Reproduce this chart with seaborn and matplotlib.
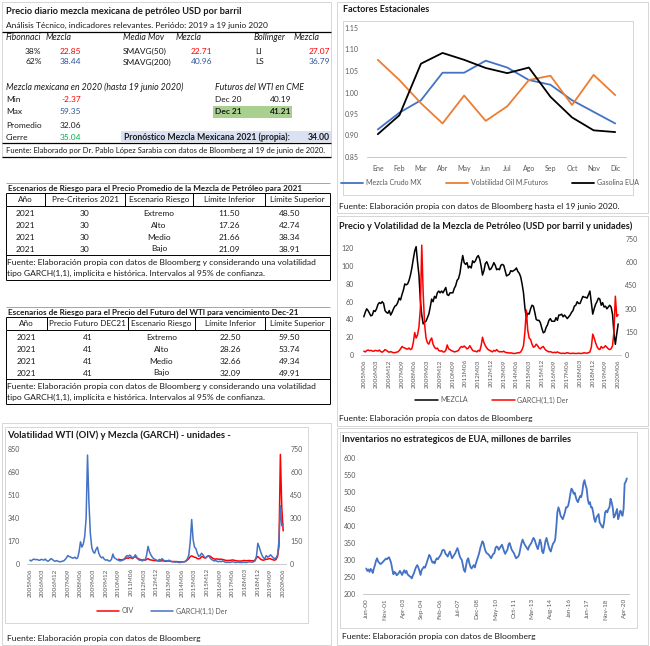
import numpy as np
import pandas as pd
import matplotlib
matplotlib.use("Agg")
import matplotlib.pyplot as plt
import seaborn as sns
from matplotlib.patches import Rectangle

sns.set_theme(style="white")
plt.rcParams['font.family'] = ['Lato', 'DejaVu Sans']

# ---------------- DATA ----------------
fib_labels = ["38%", "62%"]
fib_values = [22.85, 38.44]
sma_labels = ["SMAVG(50)", "SMAVG(200)"]
sma_values = [22.71, 40.96]
boll_labels = ["LI", "LS"]
boll_values = [27.07, 36.79]
stats_labels = ["Min", "Max", "Promedio", "Cierre"]
stats_values = [-2.37, 59.35, 32.06, 35.04]
fut_labels = ["Dec 20", "Dec 21"]
fut_values = [40.19, 41.21]
forecast_2021 = 34.00

esc_years = [2021, 2021, 2021, 2021]
esc_names = ["Extremo", "Alto", "Medio", "Bajo"]
t1_precrit = [30, 30, 30, 30]
t1_inf = [11.50, 17.26, 21.66, 21.09]
t1_sup = [48.50, 42.74, 38.34, 38.91]
t2_fut = [41, 41, 41, 41]
t2_inf = [22.50, 28.26, 32.66, 32.09]
t2_sup = [59.50, 53.74, 49.34, 49.91]

meses = ["Ene", "Feb", "Mar", "Abr", "May", "Jun", "Jul", "Ago", "Sep", "Oct", "Nov", "Dic"]
fe_mezcla = [0.914, 0.953, 0.982, 1.046, 1.046, 1.074, 1.058, 1.029, 1.018, 0.982, 0.955, 0.928]
fe_volat = [1.076, 1.029, 0.975, 0.928, 0.993, 0.934, 0.968, 1.029, 1.039, 0.971, 1.041, 0.994]
fe_gasol = [0.903, 0.947, 1.067, 1.092, 1.076, 1.057, 1.045, 1.058, 0.990, 0.942, 0.912, 0.908]

# monthly 2005M06 .. 2020M06
mezcla = [43, 48, 52, 50, 47, 44, 45,
          50, 49, 52, 57, 59, 58, 60, 58, 50, 48, 47, 50,
          45, 48, 52, 55, 56, 59, 64, 62, 68, 73, 80, 79,
          80, 84, 90, 98, 108, 117, 122, 105, 90, 62, 45, 35,
          37, 38, 42, 46, 54, 63, 60, 66, 64, 70, 72, 70,
          72, 70, 73, 76, 68, 67, 70, 70, 70, 75, 78, 84,
          86, 92, 103, 112, 104, 102, 104, 98, 100, 98, 106, 104,
          106, 110, 112, 108, 100, 90, 95, 103, 105, 101, 96, 97,
          100, 104, 101, 96, 97, 96, 101, 102, 101, 95, 89, 90,
          91, 95, 94, 95, 96, 98, 94, 92, 88, 80, 70, 53,
          42, 47, 46, 52, 56, 55, 48, 40, 39, 39, 36, 30,
          25, 26, 31, 34, 39, 41, 38, 38, 38, 42, 39, 45,
          45, 46, 43, 45, 43, 41, 43, 45, 48, 50, 55, 56,
          60, 58, 58, 62, 66, 65, 65, 64, 68, 72, 59, 46,
          52, 57, 60, 64, 63, 56, 59, 54, 55, 52, 54, 56,
          54, 46, 25, 12, 24, 35]
garch = [25, 20, 28, 32, 28, 30, 26,
         24, 30, 28, 25, 32, 22, 18, 25, 35, 30, 22, 18,
         22, 18, 15, 15, 18, 20, 28, 40, 55, 48, 45, 40,
         38, 45, 35, 40, 80, 145, 110, 130, 180, 300, 710, 400,
         200, 110, 80, 70, 95, 110, 70, 50, 40, 45, 30, 25,
         28, 20, 20, 30, 65, 40, 35, 28, 25, 20, 22, 25,
         30, 45, 55, 50, 58, 50, 40, 45, 60, 45, 30, 25,
         25, 20, 30, 25, 60, 115, 80, 60, 45, 35, 30, 25,
         20, 30, 25, 35, 25, 20, 22, 20, 25, 18, 15, 15,
         12, 14, 12, 10, 10, 12, 15, 14, 20, 35, 60, 150,
         290, 160, 110, 100, 70, 50, 55, 70, 60, 45, 40, 50,
         55, 40, 30, 25, 20, 22, 18, 15, 18, 15, 20, 15,
         12, 10, 12, 10, 12, 15, 12, 10, 10, 12, 10, 10,
         10, 12, 10, 10, 12, 15, 12, 12, 15, 20, 50, 135,
         110, 80, 55, 40, 35, 55, 45, 50, 60, 50, 40, 35,
         40, 60, 150, 380, 250, 260]
oiv_start = "2010-09"
oiv = [35, 32, 30, 33,
       35, 40, 45, 42, 48, 45, 40, 50, 55, 45, 40, 35,
       32, 30, 30, 28, 35, 40, 32, 30, 28, 26, 25, 25,
       24, 22, 22, 25, 23, 20, 20, 22, 22, 20, 18, 18,
       18, 18, 17, 16, 15, 15, 16, 18, 22, 30, 40, 55,
       60, 55, 50, 48, 40, 38, 42, 55, 52, 45, 45, 55,
       60, 58, 50, 42, 38, 35, 38, 35, 36, 35, 33, 30,
       28, 25, 27, 26, 28, 30, 28, 25, 24, 22, 22, 22,
       23, 26, 25, 24, 25, 26, 24, 24, 23, 30, 45, 55,
       45, 35, 30, 28, 32, 35, 36, 40, 38, 34, 30, 28,
       35, 55, 130, 810, 420, 245]
month_ticks = ["2005M06", "2006M03", "2006M12", "2007M09", "2008M06", "2009M03", "2009M12",
               "2010M09", "2011M06", "2012M03", "2012M12", "2013M09", "2014M06", "2015M03",
               "2015M12", "2016M09", "2017M06", "2018M03", "2018M12", "2019M09", "2020M06"]

# monthly Jun-00 .. Jun-20, millones de barriles
inventarios = [275, 268, 272, 265, 274, 270, 262, 275, 285, 298, 305, 295,
               292, 288, 290, 293, 297, 300, 304, 302, 306, 308, 300, 290,
               272, 258, 265, 262, 255, 258, 262, 268, 262, 256, 264, 270,
               262, 268, 258, 255, 252, 250, 246, 255, 262, 272, 280, 285,
               278, 268, 256, 270, 275, 280, 277, 285, 295, 305, 315, 310,
               300, 292, 295, 290, 300, 305, 302, 308, 312, 318, 328, 330,
               328, 318, 315, 310, 318, 325, 315, 305, 310, 315, 320, 328,
               335, 325, 312, 305, 300, 285, 270, 265, 285, 300, 305, 290,
               280, 275, 280, 285, 278, 290, 300, 310, 320, 335, 345, 355,
               350, 335, 325, 320, 318, 315, 310, 305, 312, 318, 320, 335,
               340, 338, 330, 335, 340, 345, 335, 325, 318, 325, 330, 345,
               350, 340, 330, 325, 320, 312, 305, 308, 310, 318, 335, 350,
               360, 352, 345, 340, 335, 330, 340, 345, 350, 358, 365, 360,
               350, 340, 332, 345, 360, 350, 325, 320, 335, 355, 365, 352,
               340, 330, 325, 338, 348, 352, 360, 395, 440, 455, 445, 430,
               425, 420, 430, 440, 455, 455, 460, 475, 495, 510, 505, 495,
               498, 485, 475, 470, 480, 488, 485, 500, 525, 535, 520, 510,
               480, 465, 470, 455, 455, 440, 420, 412, 425, 430, 435, 410,
               405, 398, 395, 410, 440, 445, 440, 450, 455, 480, 470, 455,
               425, 430, 440, 450, 420, 430, 445, 440, 430, 450, 525, 530,
               540]
inv_ticks = ["Jun-00", "Nov-01", "Apr-03", "Sep-04", "Feb-06", "Jul-07", "Dec-08", "May-10",
             "Oct-11", "Mar-13", "Aug-14", "Jan-16", "Jun-17", "Nov-18", "Apr-20"]

# ---------------- FIGURE ----------------
W, H = 650, 646
fig = plt.figure(figsize=(6.5, 6.46), dpi=100)
fig.patch.set_facecolor("white")
bg = fig.add_axes([0, 0, 1, 1])
bg.set_xlim(0, W); bg.set_ylim(H, 0); bg.axis("off")

RED = "#FF0000"; BLUE = "#2F5597"; GREEN = "#00B050"
TXT = "#1a1a1a"; GRAY = "#595959"; BORDER = "#D0D0D0"
LBLUE = "#4472C4"; ORANGE = "#ED7D31"


def rect(x0, y0, x1, y1):
    return [x0 / W, 1 - y1 / H, (x1 - x0) / W, (y1 - y0) / H]


def T(x, y, s, size=6.0, ha="left", color=TXT, weight="normal", style="normal"):
    bg.text(x, y, s, fontsize=size, ha=ha, va="center", color=color,
            fontweight=weight, fontstyle=style)


def box(x0, y0, x1, y1, ec=BORDER, lw=0.6, fc=None):
    bg.add_patch(Rectangle((x0, y0), x1 - x0, y1 - y0, fill=fc is not None,
                           facecolor=fc if fc else "none", edgecolor=ec, lw=lw))


def hl(y, x0, x1, color="#000000", lw=0.7):
    bg.plot([x0, x1], [y, y], color=color, lw=lw, solid_capstyle="butt")


def vl(x, y0, y1, color="#000000", lw=0.7):
    bg.plot([x, x], [y0, y1], color=color, lw=lw, solid_capstyle="butt")


# ---------------- TOP-LEFT PANEL ----------------
box(2, 2, 331, 157)
T(6, 12, "Precio diario mezcla mexicana de petróleo USD por barril", size=6.7, weight="bold")
T(6, 25, "Análisis Técnico, indicadores relevantes. Periódo: 2019 a 19 junio 2020", size=6.0)
hl(32, 2, 331, lw=0.9)
IT = 6.3
T(6, 38, "Fibonnaci", style="italic", size=IT); T(46, 38, "Mezcla", style="italic", size=IT)
T(123, 38, "Media Mov", style="italic", size=IT); T(176, 38, "Mezcla", style="italic", size=IT)
T(254, 38, "Bollinger", style="italic", size=IT); T(294, 38, "Mezcla", style="italic", size=IT)
row_y = [51, 62]
row_col = [RED, BLUE]
for i in range(2):
    T(25, row_y[i], fib_labels[i])
    T(81, row_y[i], f"{fib_values[i]:.2f}", ha="right", color=row_col[i])
    T(123, row_y[i], sma_labels[i])
    T(212, row_y[i], f"{sma_values[i]:.2f}", ha="right", color=row_col[i])
    T(255, row_y[i], boll_labels[i])
    T(330, row_y[i], f"{boll_values[i]:.2f}", ha="right", color=row_col[i])
T(6, 87, "Mezcla mexicana en 2020 (hasta 19 junio 2020)", style="italic", size=IT)
T(215, 87, "Futuros del WTI en CME", style="italic", size=IT)
st_y = [99, 112, 125, 137]
st_col = [RED, BLUE, TXT, GREEN]
for i in range(4):
    T(6, st_y[i], stats_labels[i])
    T(81, st_y[i], f"{stats_values[i]:.2f}", ha="right", color=st_col[i])
box(213, 106, 292, 118, ec="none", fc="#A9D08E")
T(215, 99, fut_labels[0]); T(291, 99, f"{fut_values[0]:.2f}", ha="right")
T(215, 112, fut_labels[1], weight="bold"); T(291, 112, f"{fut_values[1]:.2f}", ha="right", weight="bold")
box(121, 131, 331, 142, ec="none", fc="#D9E1F2")
T(124, 137, "Pronóstico Mezcla Mexicana 2021 (propia):", weight="bold", size=6.2)
T(330, 137, f"{forecast_2021:.2f}", ha="right", weight="bold", size=6.2)
hl(143, 2, 331, lw=0.9)
T(6, 150, "Fuente: Elaborado por Dr. Pablo López Sarabia con datos de Bloomberg al 19 de junio de 2020.", size=5.5)
hl(157, 2, 331, lw=0.9)


# ---------------- TABLES ----------------
def scen_table(y_top, title, headers, seps, col2):
    x0, x1 = 6, 330
    hl(y_top, x0, x1, lw=0.5, color="#808080")
    T(8, y_top + 5, title, size=5.9, weight="bold")
    hy0 = y_top + 10; hy1 = hy0 + 13
    hl(hy0, x0, x1); hl(hy1, x0, x1)
    xs = [x0] + seps + [x1]
    for x in xs:
        vl(x, hy0, hy1)
    centers = [(xs[k] + xs[k + 1]) / 2 for k in range(5)]
    for k, h in enumerate(headers):
        T(centers[k], (hy0 + hy1) / 2, h, ha="center", size=5.9)
    ry = [hy1 + 7 + 12 * r for r in range(4)]
    for r in range(4):
        T(centers[0], ry[r], str(esc_years[r]), ha="center")
        T(centers[1], ry[r], str(col2[0][r]), ha="center")
        T(centers[2], ry[r], esc_names[r], ha="center")
        T(centers[3], ry[r], f"{col2[1][r]:.2f}", ha="center")
        T(centers[4] - 8, ry[r], f"{col2[2][r]:.2f}", ha="center")
    ly = hy1 + 49
    hl(ly, x0, x1)
    T(7, ly + 7, "Fuente: Elaboración propia con datos de Bloomberg y considerando una volatilidad", size=6.1)
    T(7, ly + 18, "tipo GARCH(1,1), implícita e histórica. Intervalos al 95% de confianza.", size=6.1)
    hl(ly + 25, x0, x1)
    vl(x0, hy1, ly + 25); vl(x1, hy1, ly + 25)


scen_table(183, "Escenarios de Riesgo para el Precio Promedio de la Mezcla de Petróleo para 2021",
           ["Año", "Pre-Criterios 2021", "Escenario Riesgo", "Límite Inferior", "Límite Superior"],
           [45, 125, 193, 265], (t1_precrit, t1_inf, t1_sup))
scen_table(307, "Escenarios de Riesgo para el Precio del Futuro del WTI para vencimiento Dec-21",
           ["Año", "Precio Futuro DEC21", "Escenario Riesgo", "Límite Inferior", "Límite Superior"],
           [47, 128, 195, 265], (t2_fut, t2_inf, t2_sup))


def style_axis(ax):
    for s in ["top", "right", "left"]:
        ax.spines[s].set_visible(False)
    ax.spines["bottom"].set_color("#BFBFBF")
    ax.spines["bottom"].set_linewidth(0.6)
    ax.tick_params(axis="both", labelsize=5, colors=GRAY, length=0, pad=3)
    ax.set_facecolor("none")
    ax.grid(False)
    ax.set_xlabel(""); ax.set_ylabel("")


ROT = dict(labelsize=4.6, pad=3)

# ---------------- FACTORES ESTACIONALES ----------------
box(337, 2, 648, 213)
box(343, 21, 633, 195)
T(343, 10, "Factores Estacionales", size=6.5, weight="bold")
ax1 = fig.add_axes(rect(367, 28, 626, 157))
xi = np.arange(len(meses))
sns.lineplot(x=xi, y=fe_mezcla, ax=ax1, color=LBLUE, lw=1.3, label="Mezcla Crudo MX")
sns.lineplot(x=xi, y=fe_volat, ax=ax1, color=ORANGE, lw=1.3, label="Volatilidad Oil M.Futuros")
sns.lineplot(x=xi, y=fe_gasol, ax=ax1, color="#000000", lw=1.3, label="Gasolina EUA")
ax1.set_xlim(-0.5, 11.5); ax1.set_ylim(0.85, 1.15)
yt = [0.85, 0.90, 0.95, 1.00, 1.05, 1.10, 1.15]
ax1.set_yticks(yt)
ax1.set_yticklabels([f"{v:.2f}" for v in yt])
ax1.set_xticks(xi); ax1.set_xticklabels(meses)
style_axis(ax1)
ax1.tick_params(axis="x", pad=6)
ax1.tick_params(axis="y", pad=6)
ax1.legend(loc="center", bbox_to_anchor=(490 / W, 1 - 183 / H), bbox_transform=fig.transFigure,
           ncol=3, frameon=False, fontsize=5, handlelength=3.2, columnspacing=3.5,
           handletextpad=0.4, labelcolor=GRAY)
T(339, 206, "Fuente: Elaboración propia con datos de Bloomberg hasta el 19 junio 2020.", size=6.1)

# ---------------- PRECIO Y VOLATILIDAD ----------------
months = pd.period_range("2005-06", periods=len(mezcla), freq="M")
mlab = [f"{p.year}M{p.month:02d}" for p in months]
mi = np.arange(len(months))
tick_pos = [mlab.index(t) for t in month_ticks]

box(337, 216, 648, 426)
T(339, 226, "Precio y Volatilidad de la Mezcla de Petróleo (USD por barril y unidades)", size=6.6, weight="bold")
ax2 = fig.add_axes(rect(361, 239, 621, 355))
sns.lineplot(x=mi, y=mezcla, ax=ax2, color="#000000", lw=1.1, label="MEZCLA", legend=False)
ax2.set_xlim(-2, 182); ax2.set_ylim(0, 130.6)
ax2.set_yticks([0, 20, 40, 60, 80, 100, 120])
ax2.set_xticks(tick_pos); ax2.set_xticklabels(month_ticks, rotation=90)
style_axis(ax2)
ax2.tick_params(axis="x", **ROT)
ax2.tick_params(axis="y", pad=5)
ax2b = ax2.twinx()
sns.lineplot(x=mi, y=garch, ax=ax2b, color=RED, lw=1.1, label="GARCH(1,1) Der", legend=False)
ax2b.set_ylim(0, 750); ax2b.set_yticks([0, 150, 300, 450, 600, 750])
style_axis(ax2b)
ax2b.spines["bottom"].set_visible(False)
h1, l1 = ax2.get_legend_handles_labels(); h2, l2 = ax2b.get_legend_handles_labels()
ax2b.legend(h1 + h2, l1 + l2, loc="center", bbox_to_anchor=(492 / W, 1 - 400 / H),
            bbox_transform=fig.transFigure, ncol=2, frameon=False, fontsize=5,
            handlelength=3.2, columnspacing=3.5, handletextpad=0.4, labelcolor=GRAY)
T(339, 418, "Fuente: Elaboración propia con datos de Bloomberg", size=6.1)

# ---------------- VOLATILIDAD WTI / GARCH ----------------
box(2, 423, 331, 645)
box(5, 427, 308, 623)
T(7, 435, "Volatilidad WTI (OIV) y Mezcla (GARCH) - unidades -", size=6.8, weight="bold")
ax3 = fig.add_axes(rect(27, 449, 286, 564))
o0 = mlab.index(oiv_start.replace("-", "M"))
oi = np.arange(o0, o0 + len(oiv))
sns.lineplot(x=oi, y=oiv, ax=ax3, color=RED, lw=1.1, label="OIV", legend=False)
ax3.set_xlim(-2, 182); ax3.set_ylim(0, 850)
ax3.set_yticks([0, 170, 340, 510, 680, 850])
ax3.set_xticks(tick_pos); ax3.set_xticklabels(month_ticks, rotation=90)
style_axis(ax3)
ax3.tick_params(axis="x", **ROT)
ax3.tick_params(axis="y", pad=5)
ax3b = ax3.twinx()
sns.lineplot(x=mi, y=garch, ax=ax3b, color=LBLUE, lw=1.1, label="GARCH(1,1) Der", legend=False)
ax3b.set_ylim(0, 750); ax3b.set_yticks([0, 150, 300, 450, 600, 750])
style_axis(ax3b)
ax3b.spines["bottom"].set_visible(False)
h1, l1 = ax3.get_legend_handles_labels(); h2, l2 = ax3b.get_legend_handles_labels()
ax3b.legend(h1 + h2, l1 + l2, loc="center", bbox_to_anchor=(162 / W, 1 - 611 / H),
            bbox_transform=fig.transFigure, ncol=2, frameon=False, fontsize=5,
            handlelength=3.2, columnspacing=2.5, handletextpad=0.4, labelcolor=GRAY)
T(7, 638, "Fuente: Elaboración propia con datos de Bloomberg", size=6.1)

# ---------------- INVENTARIOS ----------------
box(337, 428, 648, 645)
box(340, 432, 637, 628)
T(342, 440, "Inventarios no estrategicos de EUA, millones de barriles", size=6.7, weight="bold")
inv_months = pd.period_range("2000-06", periods=len(inventarios), freq="M")
inv_lab = [p.strftime("%b-%y") for p in inv_months]
ii = np.arange(len(inventarios))
ax4 = fig.add_axes(rect(363, 458, 629, 594))
sns.lineplot(x=ii, y=inventarios, ax=ax4, color=LBLUE, lw=1.3)
ax4.set_xlim(-3, 242); ax4.set_ylim(200, 600)
ax4.set_yticks([200, 250, 300, 350, 400, 450, 500, 550, 600])
ax4.set_xticks([inv_lab.index(t) for t in inv_ticks]); ax4.set_xticklabels(inv_ticks, rotation=90)
style_axis(ax4)
ax4.tick_params(axis="x", **ROT)
ax4.tick_params(axis="y", pad=5)
T(342, 636, "Fuente: Elaboración propia con datos de Bloomberg", size=6.1)

fig.savefig("out.png", dpi=100, facecolor="white")
